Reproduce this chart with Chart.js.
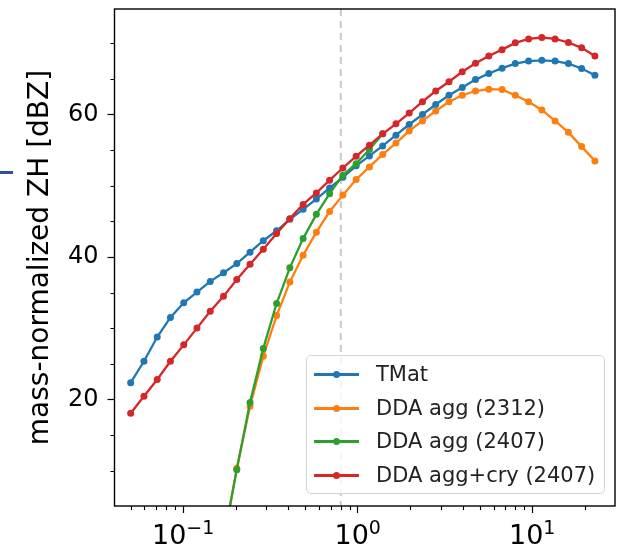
<!DOCTYPE html>
<html>
<head>
<meta charset="utf-8">
<script src="https://cdn.jsdelivr.net/npm/chart.js@4.4.0/dist/chart.umd.min.js"></script>
<style>
  html, body { margin: 0; padding: 0; background: #fff; }
  #wrap { position: relative; width: 628px; height: 551px; }
  #edgeMark { position: absolute; left: 0; top: 171px; width: 13px; height: 3px; background: #2f4fa5; }
  #legendBox {
    position: absolute; left: 306px; top: 355px; width: 297px; height: 137px;
    border: 1px solid #d4d4d4; border-radius: 5px; background: rgba(255,255,255,0.8);
    font-family: "DejaVu Sans", sans-serif; font-size: 21px; color: #222;
  }
  .legRow { position: absolute; left: 0; right: 0; height: 30px; }
  .legLine { position: absolute; left: 7px; width: 45px; top: 14px; height: 3px; }
  .legDot { position: absolute; left: 26px; top: 12px; width: 7px; height: 7px; border-radius: 50%; }
  .legText { position: absolute; left: 69px; top: 0; line-height: 30px; white-space: nowrap; }
</style>
</head>
<body>
<div id="wrap">
  <canvas id="zhChart" width="628" height="551"></canvas>
  <div id="edgeMark"></div>
  <div id="legendBox"></div>
</div>
<script>
// particle size axis (log spaced)
const sizes = [0.0500, 0.0596, 0.0710, 0.0845, 0.1007, 0.1199, 0.1429, 0.1702, 0.2028, 0.2415,
               0.2877, 0.3428, 0.4083, 0.4864, 0.5794, 0.6902, 0.8222, 0.9795, 1.167, 1.390,
               1.656, 1.972, 2.350, 2.799, 3.334, 3.972, 4.732, 5.636, 6.714, 7.998,
               9.528, 11.35, 13.52, 16.11, 19.19, 22.86];

const tmat = [22.4, 25.4, 28.8, 31.55, 33.6, 35.1, 36.6, 37.8, 39.1, 40.7,
              42.3, 43.7, 45.3, 46.7, 48.15, 49.7, 51.2, 52.8, 54.2, 55.6,
              57.1, 58.6, 60.0, 61.4, 62.7, 63.8, 64.9, 65.75, 66.5, 67.15,
              67.5, 67.6, 67.5, 67.15, 66.45, 65.5];

const ddaAgg2312 = [null, null, null, null, null, null, null, 0.0, 10.4, 19.1,
                    26.1, 31.8, 36.5, 40.25, 43.5, 46.4, 48.7, 50.9, 52.65, 54.4,
                    56.0, 57.7, 59.1, 60.5, 61.8, 62.7, 63.3, 63.55, 63.5, 62.7,
                    61.8, 60.65, 59.1, 57.5, 55.5, 53.5];

const ddaAgg2407 = [null, null, null, null, null, null, null, 0.3, 10.2, 19.6,
                    27.2, 33.5, 38.5, 42.6, 46.0, 48.9, 51.5, 53.1, 55.1, 57.3,
                    null, null, null, null, null, null, null, null, null, null,
                    null, null, null, null, null, null];

const ddaAggCry2407 = [18.1, 20.5, 22.85, 25.4, 27.7, 30.05, 32.4, 34.5, 36.85, 39.0,
                       41.1, 43.3, 45.4, 47.4, 49.0, 50.8, 52.5, 54.15, 55.7, 57.3,
                       58.7, 60.2, 61.8, 63.3, 64.6, 66.0, 67.2, 68.2, 69.1, 70.05,
                       70.6, 70.8, 70.6, 70.1, 69.35, 68.2];

const seriesNames = ['TMat', 'DDA agg (2312)', 'DDA agg (2407)', 'DDA agg+cry (2407)'];
const seriesColors = ['#1f77b4', '#ff7f0e', '#2ca02c', '#d62728'];

const cutoffSize = 0.8;

const xTickValues = [0.05, 0.06, 0.07, 0.08, 0.09, 0.1, 0.2, 0.3, 0.4, 0.5, 0.6, 0.7, 0.8, 0.9,
                     1, 2, 3, 4, 5, 6, 7, 8, 9, 10, 20];
const xMajorTicks = [0.1, 1, 10];
const xMajorExponents = ['\u22121', '0', '1'];
const yTickValues = [10, 15, 20, 25, 30, 35, 40, 45, 50, 55, 60, 65, 70];
const yMajorTicks = [20, 40, 60];

function isMajor(v, list) {
    return list.some(m => Math.abs(v - m) / m < 1e-6);
}

function toPoints(values) {
    const pts = [];
    values.forEach((y, i) => {
        if (y !== null) pts.push({ x: sizes[i], y: y });
    });
    return pts;
}

const allSeries = [tmat, ddaAgg2312, ddaAgg2407, ddaAggCry2407];

const datasets = allSeries.map((vals, i) => ({
    label: seriesNames[i],
    data: toPoints(vals),
    borderColor: seriesColors[i],
    backgroundColor: seriesColors[i],
    pointBackgroundColor: seriesColors[i],
    pointBorderWidth: 0,
    pointRadius: 3.5,
    borderWidth: 2.3,
    tension: 0,
    order: allSeries.length - i   // later series drawn on top, like matplotlib
}));

// dashed cutoff line, minor ticks, power-of-ten labels and the box frame
const extrasPlugin = {
    id: 'extras',
    beforeDatasetsDraw(chart) {
        const { ctx, chartArea, scales } = chart;
        const x = scales.x.getPixelForValue(cutoffSize);
        ctx.save();
        ctx.strokeStyle = '#c8c8c8';
        ctx.lineWidth = 2;
        ctx.setLineDash([7, 5]);
        ctx.beginPath();
        ctx.moveTo(x, chartArea.top);
        ctx.lineTo(x, chartArea.bottom);
        ctx.stroke();
        ctx.restore();
    },
    afterDatasetsDraw(chart) {
        const { ctx, chartArea, scales } = chart;
        ctx.save();
        ctx.strokeStyle = '#000';
        ctx.lineWidth = 1.1;
        ctx.beginPath();
        xTickValues.filter(v => !isMajor(v, xMajorTicks)).forEach(v => {
            const px = Math.round(scales.x.getPixelForValue(v)) + 0.5;
            ctx.moveTo(px, chartArea.bottom);
            ctx.lineTo(px, chartArea.bottom + 4);
        });
        yTickValues.filter(v => !isMajor(v, yMajorTicks)).forEach(v => {
            const py = Math.round(scales.y.getPixelForValue(v)) + 0.5;
            ctx.moveTo(chartArea.left - 4, py);
            ctx.lineTo(chartArea.left, py);
        });
        ctx.stroke();
        ctx.lineWidth = 1.4;
        ctx.strokeRect(chartArea.left, chartArea.top, chartArea.right - chartArea.left, chartArea.bottom - chartArea.top);

        // x labels as 10 with raised exponent
        ctx.fillStyle = '#000';
        ctx.textBaseline = 'alphabetic';
        ctx.textAlign = 'left';
        xMajorTicks.forEach((v, k) => {
            const px = scales.x.getPixelForValue(v);
            ctx.font = '27px "DejaVu Sans"';
            const w1 = ctx.measureText('10').width;
            ctx.font = '19px "DejaVu Sans"';
            const w2 = ctx.measureText(xMajorExponents[k]).width;
            const x0 = px - (w1 + w2) / 2;
            ctx.font = '27px "DejaVu Sans"';
            ctx.fillText('10', x0, chartArea.bottom + 37.5);
            ctx.font = '19px "DejaVu Sans"';
            ctx.fillText(xMajorExponents[k], x0 + w1, chartArea.bottom + 28);
        });
        ctx.restore();
    }
};

const tickFont = { family: 'DejaVu Sans', size: 24 };

new Chart(document.getElementById('zhChart'), {
    type: 'line',
    data: { datasets: datasets },
    options: {
        responsive: false,
        animation: false,
        layout: { padding: { top: 9, right: 13, left: 0, bottom: 0 } },
        plugins: { legend: { display: false }, tooltip: { enabled: false } },
        scales: {
            x: {
                type: 'logarithmic',
                min: 0.0404,
                max: 29.8,
                afterBuildTicks: s => { s.ticks = xTickValues.map(v => ({ value: v })); },
                afterFit: s => { s.height = 45; s.paddingLeft = 0; s.paddingRight = 0; },
                border: { display: false },
                grid: {
                    drawOnChartArea: false,
                    tickLength: 7,
                    tickWidth: 1.2,
                    tickColor: c => (c.tick && isMajor(c.tick.value, xMajorTicks)) ? '#000' : 'rgba(0,0,0,0)'
                },
                ticks: {
                    autoSkip: false,
                    maxRotation: 0,
                    font: tickFont,
                    callback: () => ''
                }
            },
            y: {
                min: 5.1,
                max: 74.8,
                afterBuildTicks: s => { s.ticks = yTickValues.map(v => ({ value: v })); },
                afterFit: s => { s.width = 114.5; s.paddingTop = 0; s.paddingBottom = 0; },
                border: { display: false },
                grid: {
                    drawOnChartArea: false,
                    tickLength: 7,
                    tickWidth: 1.2,
                    tickColor: c => (c.tick && isMajor(c.tick.value, yMajorTicks)) ? '#000' : 'rgba(0,0,0,0)'
                },
                ticks: {
                    autoSkip: false,
                    padding: 9,
                    color: '#000',
                    font: tickFont,
                    callback: v => isMajor(v, yMajorTicks) ? String(v) : ''
                },
                title: {
                    display: true,
                    text: 'mass-normalized ZH [dBZ]',
                    color: '#000',
                    font: { family: 'DejaVu Sans', size: 28 },
                    padding: { top: 24, bottom: 0 }
                }
            }
        }
    },
    plugins: [extrasPlugin]
});

// legend box in html, built from the datasets
const legendBox = document.getElementById('legendBox');
datasets.forEach((ds, i) => {
    const row = document.createElement('div');
    row.className = 'legRow';
    row.style.top = Math.round(3 + i * 33.5) + 'px';
    row.innerHTML = `
        <span class="legLine" style="background:${ds.borderColor}"></span>
        <span class="legDot" style="background:${ds.borderColor}"></span>
        <span class="legText">${ds.label}</span>`;
    legendBox.appendChild(row);
});
</script>
</body>
</html>
